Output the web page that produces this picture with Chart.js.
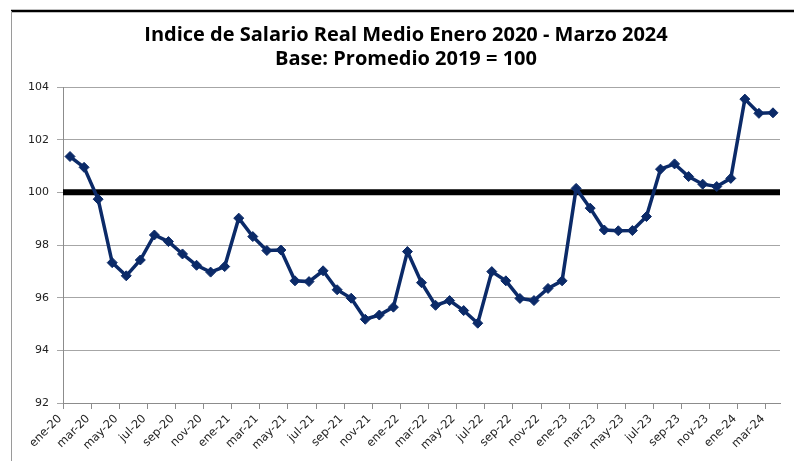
<!DOCTYPE html>
<html lang="es">
<head>
  <meta charset="UTF-8">
  <title>Indice de Salario Real Medio</title>
  <style>
    body { margin: 0; background: #fff; }
    #wrap { width: 794px; height: 461px; }
  </style>
  <script src="https://cdn.jsdelivr.net/npm/chart.js"></script>
</head>
<body>
  <div id="wrap"><canvas id="chart" width="794" height="461"></canvas></div>
  <script>
    // meses ene-20 .. mar-24
    const months = [
      'ene-20','feb-20','mar-20','abr-20','may-20','jun-20','jul-20','ago-20','sep-20','oct-20','nov-20','dic-20',
      'ene-21','feb-21','mar-21','abr-21','may-21','jun-21','jul-21','ago-21','sep-21','oct-21','nov-21','dic-21',
      'ene-22','feb-22','mar-22','abr-22','may-22','jun-22','jul-22','ago-22','sep-22','oct-22','nov-22','dic-22',
      'ene-23','feb-23','mar-23','abr-23','may-23','jun-23','jul-23','ago-23','sep-23','oct-23','nov-23','dic-23',
      'ene-24','feb-24','mar-24'
    ];
    // indice salario real medio (base promedio 2019 = 100)
    const salario = [
      101.36, 100.95, 99.74, 97.33, 96.83, 97.43, 98.38, 98.13, 97.66, 97.23, 96.97, 97.18,
      99.02, 98.32, 97.79, 97.81, 96.64, 96.61, 97.02, 96.30, 95.98, 95.18, 95.34, 95.64,
      97.75, 96.57, 95.71, 95.89, 95.51, 95.03, 96.99, 96.64, 95.97, 95.89, 96.35, 96.64,
      100.15, 99.40, 98.57, 98.54, 98.55, 99.08, 100.88, 101.08, 100.60, 100.31, 100.22, 100.53,
      103.54, 103.00, 103.02
    ];
    const yTicks = [92, 94, 96, 98, 100, 102, 104];
    const titleLines = ['Indice de Salario Real Medio Enero 2020 - Marzo 2024', 'Base: Promedio 2019 = 100'];
    const BASE = 100;

    // linea negra de base 100, titulo y marco del grafico
    const baseLine = {
      id: 'baseLine',
      beforeDatasetsDraw(chart) {
        const { ctx, chartArea, scales } = chart;
        const y = scales.y.getPixelForValue(BASE);
        ctx.save();
        ctx.strokeStyle = '#000';
        ctx.lineWidth = 6;
        ctx.beginPath();
        ctx.moveTo(chartArea.left, y);
        ctx.lineTo(chartArea.right, y);
        ctx.stroke();
        ctx.restore();
      },
      afterDraw(chart) {
        const ctx = chart.ctx;
        ctx.save();
        ctx.fillStyle = '#000';
        ctx.font = 'bold 20px "Open Sans"';
        ctx.textAlign = 'center';
        ctx.textBaseline = 'alphabetic';
        ctx.fillText(titleLines[0], 406, 41);
        ctx.fillText(titleLines[1], 406, 65);

        ctx.strokeStyle = '#000';
        ctx.lineWidth = 2.5;
        ctx.beginPath();
        ctx.moveTo(11, 11);
        ctx.lineTo(chart.width, 11);
        ctx.stroke();
        ctx.strokeStyle = '#9a9a9a';
        ctx.lineWidth = 1;
        ctx.beginPath();
        ctx.moveTo(11.5, 11);
        ctx.lineTo(11.5, chart.height);
        ctx.stroke();
        ctx.restore();
      }
    };

    const ctx = document.getElementById('chart').getContext('2d');
    new Chart(ctx, {
      type: 'line',
      data: {
        labels: months,
        datasets: [{
          data: salario,
          borderColor: '#0b2a68',
          backgroundColor: '#0b2a68',
          borderWidth: 3.5,
          pointStyle: 'rectRot',
          pointRadius: 5,
          pointBorderWidth: 1,
          tension: 0,
          fill: false
        }]
      },
      options: {
        responsive: false,
        animation: false,
        layout: { padding: { left: 12, right: 14, top: 87, bottom: 0 } },
        plugins: {
          legend: { display: false },
          tooltip: { enabled: false },
          title: { display: false }
        },
        scales: {
          x: {
            offset: true,
            grid: {
              offset: true,
              drawOnChartArea: false,
              drawTicks: true,
              tickLength: 6,
              color: (c) => (c.index % 2 === 0 ? '#8c8c8c' : 'rgba(0,0,0,0)')
            },
            border: { display: true, color: '#8c8c8c', width: 1 },
            ticks: {
              autoSkip: false,
              maxRotation: 45,
              minRotation: 45,
              labelOffset: -10,
              padding: 3,
              color: '#222',
              font: { family: 'DejaVu Sans', size: 11.5 },
              callback: (v, i) => (i % 2 === 0 ? months[i] : '')
            },
            afterFit: (s) => { s.height = 58; }
          },
          y: {
            min: 92,
            max: 104,
            afterBuildTicks: (s) => { s.ticks = yTicks.map((v) => ({ value: v })); },
            grid: { color: '#a6a6a6', tickLength: 6, lineWidth: 1 },
            border: { display: true, color: '#8c8c8c', width: 1 },
            ticks: {
              padding: 8,
              color: '#222',
              font: { family: 'DejaVu Sans', size: 11 }
            },
            afterFit: (s) => { s.width = 51; }
          }
        }
      },
      plugins: [baseLine]
    });
  </script>
</body>
</html>
